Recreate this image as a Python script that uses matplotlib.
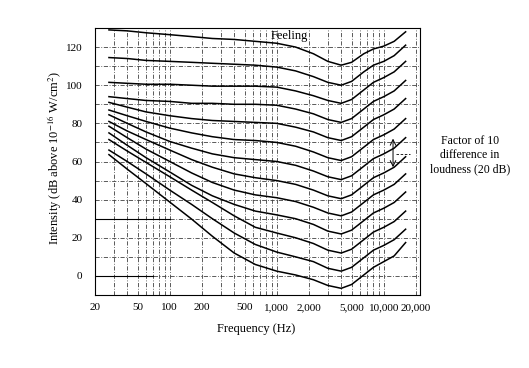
import numpy as np
import matplotlib
matplotlib.use("Agg")
import matplotlib.pyplot as plt

plt.rcParams['font.family'] = 'serif'
plt.rcParams['font.serif'] = ['Liberation Serif', 'DejaVu Serif']
plt.rcParams['mathtext.fontset'] = 'stix'

# frequency points (Hz)
freq = [27, 40, 60, 100, 160, 250, 400, 630, 1000, 1500, 2200, 3000,
        4000, 5000, 6500, 8000, 10000, 12500, 16000]

# equal loudness curves (dB), from the quietest to "feeling"
c0 = [63.6, 56, 48.4, 38.7, 29.8, 20.8, 12, 6, 2.5, 0.5, -2, -5, -6.5, -4.5, 0.5, 4.5, 7.5, 10.5, 17.5]
c10 = [66, 60, 53.5, 45, 37.5, 30, 22.5, 16.5, 12.5, 10, 7.5, 4, 2.5, 4.5, 9.5, 13.5, 16, 19, 24.5]
c20 = [71.5, 65.5, 59.5, 52, 45, 38.5, 31.5, 25.5, 22.5, 20, 17, 13.5, 12, 14, 19, 23, 25.5, 28.5, 34]
c30 = [75, 68.5, 62, 54.5, 47.5, 42, 37.5, 34, 32, 30, 27, 23.5, 22, 24, 29, 33, 35.5, 38.5, 44]
c40 = [78.5, 72.5, 66.5, 60, 54, 49, 45, 42.5, 41, 39, 36, 33, 31.5, 33.5, 38.5, 42.5, 45, 48, 53.5]
c50 = [81, 76, 71.5, 66, 61, 57, 53.5, 51.5, 50, 48, 45, 42, 40.5, 42.5, 47.5, 51.5, 54, 57, 62.5]
c60 = [84.5, 80, 75.5, 70.5, 67, 64, 62, 61, 60, 58, 55, 52, 50.5, 52.5, 57.5, 61.5, 64, 67, 72.5]
c70 = [87, 84, 81, 77.5, 75, 73, 71.5, 71, 70, 68, 65, 62, 60.5, 62.5, 67.5, 71.5, 74, 77, 82.5]
c80 = [91, 88.5, 86, 84, 82.5, 81.5, 81, 80.5, 80, 78, 75.5, 72.5, 71, 73, 78, 82, 84.5, 87.5, 93]
c90 = [94, 93, 92, 91.5, 90.5, 90.5, 90, 90, 89.5, 87.5, 85, 82, 80.5, 82.5, 87.5, 91.5, 94, 97, 102.5]
c100 = [101.5, 101, 100.5, 100.5, 100, 99.5, 99.5, 99.5, 99, 97, 94.5, 92, 90.5, 92.5, 97.5, 101.5, 104, 107, 112.5]
c110 = [114.5, 114, 113, 112.5, 112, 111.5, 111, 110.5, 109.5, 107.5, 104.5, 101.5, 100, 102, 107, 110.5, 112.5, 115.5, 121]
c120 = [129, 128.5, 127.5, 126.5, 125.5, 124.5, 124, 123, 122, 120, 116.5, 112.5, 110.5, 112, 116.5, 119, 120.5, 123, 128]
curves = [c0, c10, c20, c30, c40, c50, c60, c70, c80, c90, c100, c110, c120]

xticks = [20, 50, 100, 200, 500, 1000, 2000, 5000, 10000, 20000]
xticklabels = ['20', '50', '100', '200', '500', '1,000', '2,000', '5,000', '10,000', '20,000']
yticks = [0, 20, 40, 60, 80, 100, 120]

fig = plt.figure(figsize=(5.29, 3.68), dpi=100)
ax = fig.add_axes([95/529, 1-295/368, 325/529, 267/368])

# dashed grid like the printed chart
gl = dict(color='0.25', lw=0.6, ls=(0, (5, 2, 1, 2)), zorder=1)
for dec in [10, 100, 1000, 10000]:
    for m in range(1, 10):
        f = dec * m
        if 20 < f < 21000:
            ax.axvline(f, **gl)
for level in range(0, 130, 10):
    ax.axhline(level, **gl)
ax.plot([20, 100], [30, 30], color='k', lw=0.8, zorder=2)
ax.plot([20, 70], [0, 0], color='k', lw=0.8, zorder=2)

for c in curves:
    ax.plot(freq, c, color='k', lw=1.1, zorder=3)

ax.set_xscale('log')
ax.set_xlim(20, 21800)
ax.set_ylim(-10, 130)
ax.set_xticks(xticks)
ax.set_xticklabels(xticklabels)
ax.xaxis.set_minor_locator(matplotlib.ticker.NullLocator())
ax.set_yticks(yticks)
ax.tick_params(axis='both', length=0, labelsize=8)
ax.tick_params(axis='x', pad=6)
ax.tick_params(axis='y', pad=9)
for s in ax.spines.values():
    s.set_linewidth(0.8)

ax.text(870, 125.8, 'Feeling', fontsize=9, va='center', ha='left', zorder=4)

ax.annotate('', xy=(12200, 72), xytext=(12200, 57),
            arrowprops=dict(arrowstyle='<->', lw=0.7, color='k', shrinkA=0, shrinkB=0))
ax.plot([13000, 17500], [64, 64], color='k', lw=0.6, ls=(0, (3, 2)))

fig.text(0.888, 0.579, 'Factor of 10\ndifference in\nloudness (20 dB)',
         fontsize=8.5, ha='center', va='center', linespacing=1.25)
fig.text(55/529, 1-158/368, 'Intensity (dB above 10$^{-16}$ W/cm$^2$)',
         rotation=90, fontsize=9, ha='center', va='center')
fig.text(256/529, 1-329/368, 'Frequency (Hz)', fontsize=9, ha='center', va='center')

fig.savefig('out.png', dpi=100)
